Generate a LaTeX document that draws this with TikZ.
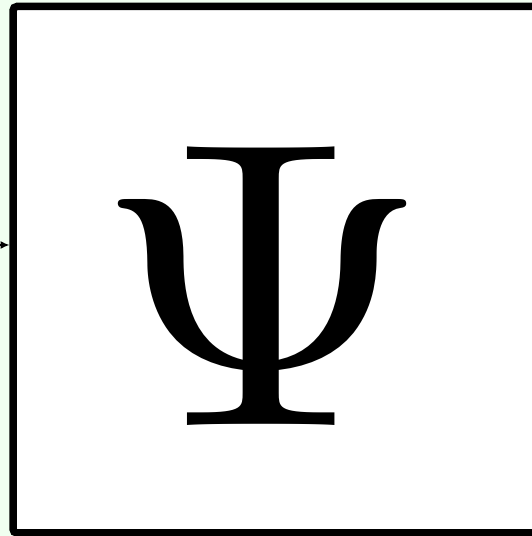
\documentclass[tikz,border=0pt]{standalone}
\usepackage{graphicx}
\usetikzlibrary{arrows.meta}
\begin{document}
\begin{tikzpicture}[x=1pt,y=1pt,
  boxline/.style={line width=7.5pt,rounded corners=4pt},
  arr/.style={-{Latex[length=9pt,width=8pt]},line width=1.5pt}]
\useasboundingbox (0,0) rectangle (532,536);
\fill[green!6] (0,0) rectangle (532,536);
\begin{scope}
\clip (0,0) rectangle (532,536);
\fill[white] (13,3) rectangle (560,529.5);
\draw[boxline] (13,3) rectangle (560,529.5);
\end{scope}
\coordinate (src) at (-2,291);
\coordinate (box) at (9.5,291);
\draw[arr] (src) -- (box);
\node[inner sep=0pt] (psi) at (263,249.5) {\scalebox{43.5}[40.8]{$\Psi$}};
\end{tikzpicture}
\end{document}
